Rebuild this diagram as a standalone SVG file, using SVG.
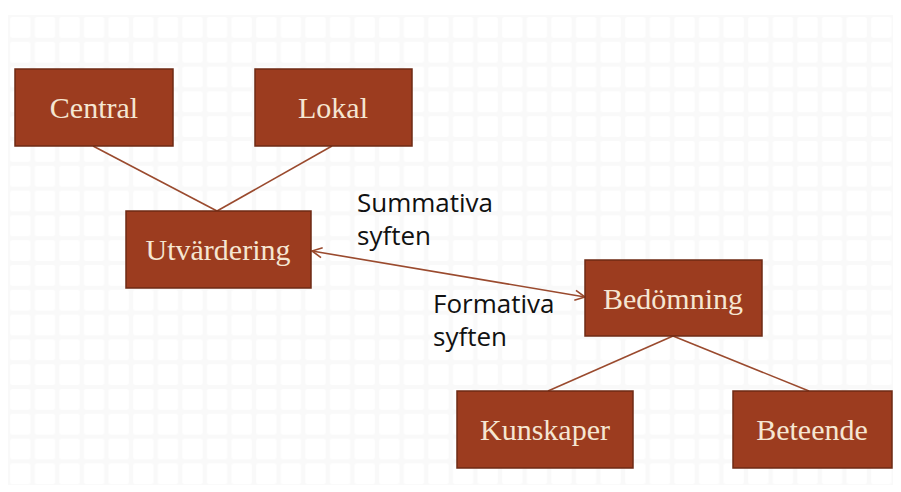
<svg xmlns="http://www.w3.org/2000/svg" width="901" height="492" viewBox="0 0 901 492">
  <defs>
    <pattern id="grid" x="8" y="15" width="24.6" height="24.8" patternUnits="userSpaceOnUse">
      <rect x="0" y="0" width="24.6" height="24.8" fill="#f9f9f9"/>
      <rect x="2" y="2" width="20.6" height="20.8" rx="2" fill="#ffffff"/>
    </pattern>
    <marker id="arr" viewBox="0 0 12 12" refX="11" refY="6" markerWidth="12" markerHeight="12" markerUnits="userSpaceOnUse" orient="auto-start-reverse">
      <path d="M1,1 L11,6 L1,11" fill="none" stroke="#9a4a2e" stroke-width="1.6"/>
    </marker>
    <style>
      .box { fill: #9c3c1f; stroke: #6e2a15; stroke-width: 1.5; }
      .lbl { font-family: "Liberation Serif", "Times New Roman", serif; font-size: 30px; fill: #f5e6d2; text-anchor: middle; }
      .edge { stroke: #9a4a2e; stroke-width: 1.6; fill: none; }
      .etxt { font-family: "Open Sans", "DejaVu Sans", sans-serif; font-size: 26px; fill: #111111; }
    </style>
  </defs>
  <rect x="0" y="0" width="901" height="492" fill="#ffffff"/>
  <rect x="8" y="15" width="885" height="470" fill="url(#grid)"/>

  <g id="connectors">
    <line class="edge" x1="93" y1="146" x2="217" y2="211"/>
    <line class="edge" x1="332" y1="146" x2="217" y2="211"/>
    <line class="edge" x1="673" y1="336" x2="548" y2="391"/>
    <line class="edge" x1="673" y1="336" x2="809" y2="391"/>
    <line class="edge" x1="312" y1="251" x2="585" y2="297" marker-start="url(#arr)" marker-end="url(#arr)"/>
    <text class="etxt" x="357" y="212">Summativa</text>
    <text class="etxt" x="357" y="245">syften</text>
    <text class="etxt" x="433" y="313">Formativa</text>
    <text class="etxt" x="433" y="346">syften</text>
  </g>

  <g id="central">
    <rect class="box" x="15" y="69" width="158" height="77"/>
    <text class="lbl" x="94" y="118">Central</text>
  </g>
  <g id="lokal">
    <rect class="box" x="255" y="69" width="157" height="77"/>
    <text class="lbl" x="333" y="118">Lokal</text>
  </g>
  <g id="utvardering">
    <rect class="box" x="126" y="211" width="185" height="77"/>
    <text class="lbl" x="218" y="260">Utvärdering</text>
  </g>
  <g id="bedomning">
    <rect class="box" x="585" y="260" width="177" height="76"/>
    <text class="lbl" x="673" y="309">Bedömning</text>
  </g>
  <g id="kunskaper">
    <rect class="box" x="457" y="391" width="176" height="77"/>
    <text class="lbl" x="545" y="440">Kunskaper</text>
  </g>
  <g id="beteende">
    <rect class="box" x="733" y="391" width="159" height="77"/>
    <text class="lbl" x="812" y="440">Beteende</text>
  </g>
</svg>
